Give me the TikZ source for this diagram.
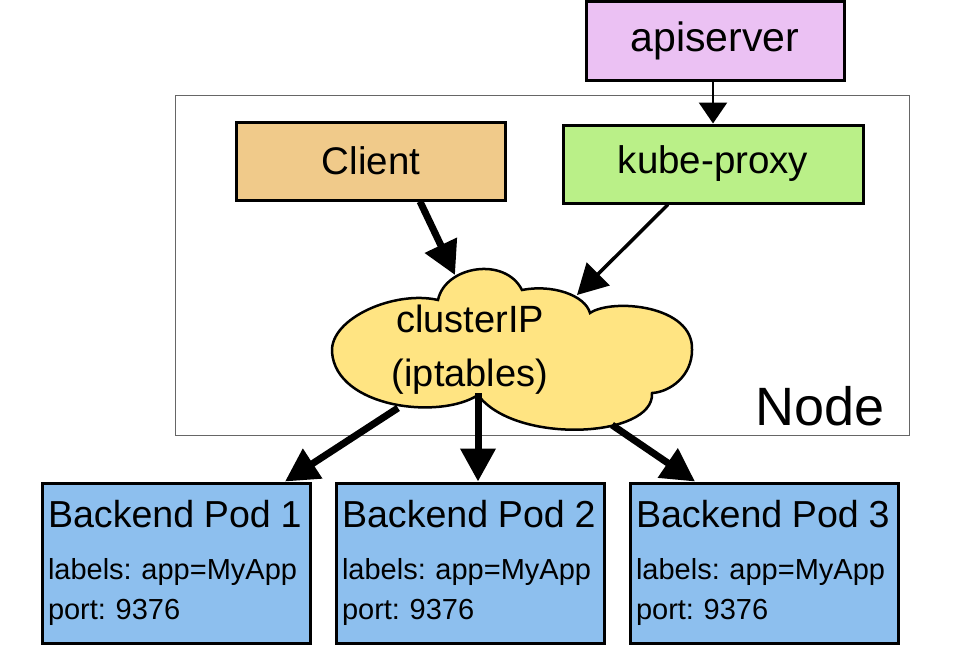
\documentclass[tikz,border=0pt]{standalone}
\usepackage{fontspec}
\setmainfont{Liberation Sans}
\usepackage{tikz}
\usetikzlibrary{arrows.meta,calc,positioning}
\definecolor{apicol}{RGB}{235,193,243}
\definecolor{clientcol}{RGB}{240,202,138}
\definecolor{proxycol}{RGB}{186,240,136}
\definecolor{cloudcol}{RGB}{255,228,130}
\definecolor{podcol}{RGB}{141,191,238}
\frenchspacing

\begin{document}
\begin{tikzpicture}[x=1pt, y=-1pt, line join=miter]
   \useasboundingbox (0,0) rectangle (968,662);
   \tikzset{box/.style={rectangle, draw=black, line width=3pt, inner sep=0pt,
                        font=\fontsize{38.5}{40}\selectfont},
            pod/.style={box, fill=podcol, minimum width=268pt, minimum height=160pt,
                        inner xsep=6pt, text width=256pt, align=left,
                        font=\fontsize{29}{40}\selectfont},
            fatarrow/.style={line width=7pt, -{Triangle[length=33pt,width=34pt]}},
            slimarrow/.style={line width=3.5pt, -{Triangle[length=30pt,width=32pt]}}}
   % the node frame
   \draw[gray!80!black, line width=1pt] (175,95) rectangle (909,435);
   \node[anchor=base east, font=\fontsize{54}{56}\selectfont] (nodelbl) at (888,425) {Node};
   % boxes
   \node[box, fill=apicol, minimum width=258pt, minimum height=79pt,
         font=\fontsize{41}{42}\selectfont] (apiserver) at (715,41) {apiserver};
   \node[box, fill=clientcol, minimum width=269pt, minimum height=78pt] (client) at (371,161) {Client};
   \node[box, fill=proxycol, minimum width=300pt, minimum height=78pt] (kproxy) at (713,164) {kube-proxy};
   % the cloud
   \draw[line width=2.5pt, fill=cloudcol]
     (332,352) .. controls (330,318) and (395,290) .. (438,300)
     .. controls (445,266) and (505,256) .. (522,290)
     .. controls (552,284) and (585,295) .. (590,313)
     .. controls (612,298) and (694,305) .. (692,350)
     .. controls (692,376) and (670,392) .. (652,393)
     .. controls (655,438) and (515,445) .. (478,395)
     .. controls (440,420) and (336,408) .. (332,352) -- cycle;
   \node[align=center, font=\fontsize{38}{54}\selectfont] (cip) at (470,350) {clusterIP\\(iptables)};
   % pods
   \foreach \i/\x in {1/176, 2/470, 3/764}
     \node[pod] (pod\i) at (\x,563) {{\fontsize{37.6}{40}\selectfont Backend Pod \i}\\[12pt]
                                     labels: app=MyApp\\ port: 9376\\[-3pt]};
   % arrows
   \draw[line width=2.5pt, -{Triangle[length=21pt,width=28pt]}] (apiserver.south -| kproxy.north) -- (kproxy.north);
   \draw[fatarrow] ([xshift=49pt]client.south) -- ($(cip.center)+(-15,-75)$);
   \draw[slimarrow] ([xshift=-45pt]kproxy.south) -- ($(cip.center)+(107,-55)$);
   \draw[fatarrow] ($(cip.center)+(-72,58)$) -- ([xshift=109pt]pod1.north);
   \draw[fatarrow] ($(cip.center)+(8,43)$) -- ([xshift=8pt]pod2.north);
   \draw[fatarrow] ($(cip.center)+(142,75)$) -- ([xshift=-69pt]pod3.north);
\end{tikzpicture}
\end{document}
